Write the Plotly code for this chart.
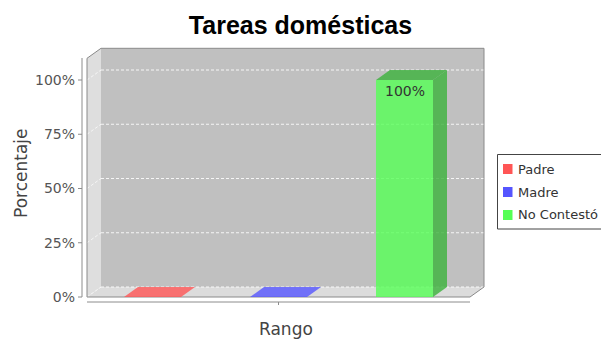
import plotly.graph_objects as go

# ---- data -------------------------------------------------------------
chart_title = "Tareas domésticas"
x_axis_title = "Rango"
y_axis_title = "Porcentaje"
series_names = ["Padre", "Madre", "No Contestó"]
series_values = [0, 0, 100]          # percent
series_rgb = [(255, 85, 85), (85, 85, 255), (85, 255, 85)]
y_ticks = [0, 25, 50, 75, 100]
y_tick_labels = ["0%", "25%", "50%", "75%", "100%"]

# ---- geometry (pixels) -------------------------------------------------
W, H = 601, 343
FRONT_LEFT, FRONT_RIGHT = 87, 470      # front face of the plot box
FLOOR_PX = 297                         # pixel row of value 0 on the front
PX_PER_PCT = 2.17                      # vertical scale
DEPTH_X, DEPTH_Y = 14, 10              # 3D extrusion in pixels
FRONT_TOP = 110                        # value at the top of the front face

FRONT_W = FRONT_RIGHT - FRONT_LEFT
DX = DEPTH_X / FRONT_W                 # depth in x data units
DY = DEPTH_Y / PX_PER_PCT              # depth in y data units
X_LO, X_HI = -0.5, 0.5                 # the single category spans [-0.5, 0.5]

# plot area in pixels, padded so outline strokes are not clipped
PA_L, PA_R, PA_T, PA_B = 85, 486, 46, 300
PA_W, PA_H = PA_R - PA_L, PA_B - PA_T


def px_x(p):
    return X_LO + (p - FRONT_LEFT) / FRONT_W


def px_y(p):
    return (FLOOR_PX - p) / PX_PER_PCT


def fx(p):
    return (p - PA_L) / PA_W


def fy(p):
    return (PA_B - p) / PA_H


def rgba(c, a):
    return f"rgba({c[0]},{c[1]},{c[2]},{a})"


ALPHA = 0.8
n = len(series_names)
slot = 126 / FRONT_W                   # spacing between bar centres
bar_w = 57 / FRONT_W

fig = go.Figure()
shapes = []
annotations = []

# ---- plot walls ---------------------------------------------------------
shapes.append(dict(type="rect", xref="x", yref="y", layer="below",
                   x0=X_LO + DX, x1=X_HI + DX, y0=DY, y1=FRONT_TOP + DY,
                   fillcolor="#C0C0C0", line=dict(width=0)))
shapes.append(dict(type="path", xref="x", yref="y", layer="below",
                   path=f"M{X_LO},0 L{X_LO + DX},{DY} L{X_LO + DX},{FRONT_TOP + DY} "
                        f"L{X_LO},{FRONT_TOP} Z",
                   fillcolor="#DEDEDE", line=dict(width=0)))
shapes.append(dict(type="path", xref="x", yref="y", layer="below",
                   path=f"M{X_LO},0 L{X_HI},0 L{X_HI + DX},{DY} L{X_LO + DX},{DY} Z",
                   fillcolor="#DCDCDC", line=dict(width=0)))

# dashed gridlines on the back wall and the left wall
for v in y_ticks:
    shapes.append(dict(type="line", xref="x", yref="y", layer="below",
                       x0=X_LO + DX, x1=X_HI + DX, y0=v + DY, y1=v + DY,
                       line=dict(color="rgba(255,255,255,0.85)", width=1, dash="3px,2px")))
    shapes.append(dict(type="line", xref="x", yref="y", layer="below",
                       x0=X_LO, x1=X_LO + DX, y0=v, y1=v + DY,
                       line=dict(color="rgba(255,255,255,0.7)", width=1, dash="3px,2px")))

# outline of the 3D box
shapes.append(dict(type="path", xref="x", yref="y", layer="below",
                   path=f"M{X_LO},0 L{X_LO},{FRONT_TOP} L{X_LO + DX},{FRONT_TOP + DY} "
                        f"L{X_HI + DX},{FRONT_TOP + DY} L{X_HI + DX},{DY} L{X_HI},0 Z",
                   line=dict(color="#8A8A8A", width=1)))

# ---- bars ---------------------------------------------------------------
for i, (name, val, c) in enumerate(zip(series_names, series_values, series_rgb)):
    centre = (i - (n - 1) / 2) * slot
    x0, x1 = centre - bar_w / 2, centre + bar_w / 2
    fig.add_trace(go.Bar(x=[centre], y=[val], width=[bar_w], name=name,
                         marker=dict(color=rgba(c, ALPHA), line=dict(width=0)),
                         showlegend=False, hoverinfo="skip"))
    dark = tuple(int(k * 0.7) for k in c)
    top_col = rgba(dark, ALPHA) if val > 0 else rgba(c, ALPHA)
    # top face
    fig.add_trace(go.Scatter(x=[x0, x1, x1 + DX, x0 + DX, x0],
                             y=[val, val, val + DY, val + DY, val],
                             mode="lines", fill="toself", fillcolor=top_col,
                             line=dict(width=0), showlegend=False, hoverinfo="skip"))
    if val > 0:
        # right side face
        fig.add_trace(go.Scatter(x=[x1, x1, x1 + DX, x1 + DX, x1],
                                 y=[0, val, val + DY, DY, 0],
                                 mode="lines", fill="toself", fillcolor=rgba(dark, ALPHA),
                                 line=dict(width=0), showlegend=False, hoverinfo="skip"))
        annotations.append(dict(x=centre, y=val, xref="x", yref="y", yshift=-11,
                                xanchor="center", yanchor="middle",
                                text=f"{val:.0f}%", showarrow=False,
                                font=dict(family="DejaVu Sans", size=14, color="#333333")))

# ---- axes lines (outside the box) -----------------------------------------
axis_col = "#8C8C8C"
shapes.append(dict(type="line", xref="paper", yref="paper",
                   x0=fx(82), x1=fx(82), y0=fy(58), y1=fy(FLOOR_PX),
                   line=dict(color=axis_col, width=1)))
for v in y_ticks:
    py = FLOOR_PX - v * PX_PER_PCT
    shapes.append(dict(type="line", xref="paper", yref="paper",
                       x0=fx(78), x1=fx(82), y0=fy(py), y1=fy(py),
                       line=dict(color=axis_col, width=1)))
shapes.append(dict(type="line", xref="paper", yref="paper",
                   x0=fx(FRONT_LEFT), x1=fx(FRONT_RIGHT), y0=fy(302), y1=fy(302),
                   line=dict(color=axis_col, width=1)))
shapes.append(dict(type="line", xref="paper", yref="paper",
                   x0=fx(278.5), x1=fx(278.5), y0=fy(302), y1=fy(305),
                   line=dict(color=axis_col, width=1)))

# ---- titles ---------------------------------------------------------------
annotations.append(dict(x=fx(21), y=fy(173), xref="paper", yref="paper",
                        xanchor="center", yanchor="middle",
                        text=y_axis_title, textangle=-90, showarrow=False,
                        font=dict(family="DejaVu Sans", size=17, color="#444444")))
annotations.append(dict(x=fx(285.5), y=fy(329), xref="paper", yref="paper",
                        xanchor="center", yanchor="middle",
                        text=x_axis_title, showarrow=False,
                        font=dict(family="DejaVu Sans", size=17, color="#444444")))

# ---- legend -----------------------------------------------------------------
shapes.append(dict(type="rect", xref="paper", yref="paper",
                   x0=fx(497.5), x1=fx(615), y0=fy(154.5), y1=fy(229),
                   fillcolor="white", line=dict(color="#444444", width=1)))
for i, (name, c) in enumerate(zip(series_names, series_rgb)):
    cy = 169 + i * 23
    shapes.append(dict(type="rect", xref="paper", yref="paper",
                       x0=fx(503), x1=fx(512.5), y0=fy(cy - 5), y1=fy(cy + 5),
                       fillcolor=rgba(c, 1), line=dict(width=0)))
    annotations.append(dict(x=fx(516), y=fy(cy), xref="paper", yref="paper",
                            xanchor="left", yanchor="middle", text=name, showarrow=False,
                            font=dict(family="DejaVu Sans", size=13, color="#333333")))

fig.update_layout(
    width=W, height=H,
    margin=dict(l=PA_L, r=W - PA_R, t=PA_T, b=H - PA_B, pad=0),
    paper_bgcolor="white", plot_bgcolor="white",
    barmode="overlay",
    showlegend=False,
    title=dict(text=f"<b>{chart_title}</b>", x=0.5, xanchor="center",
               y=1 - 25 / H, yanchor="middle", yref="container",
               font=dict(family="Liberation Sans", size=25, color="black")),
    xaxis=dict(range=[px_x(PA_L), px_x(PA_R)], showgrid=False, zeroline=False,
               showticklabels=False, ticks="", showline=False, fixedrange=True),
    yaxis=dict(range=[px_y(PA_B), px_y(PA_T)], showgrid=False, zeroline=False,
               tickvals=y_ticks, ticktext=y_tick_labels, ticks="", showline=False,
               ticklabelstandoff=9,
               tickfont=dict(family="DejaVu Sans", size=14, color="#555555"),
               fixedrange=True),
    shapes=shapes,
    annotations=annotations,
)

fig.write_html("out.html", config={"displayModeBar": False})
